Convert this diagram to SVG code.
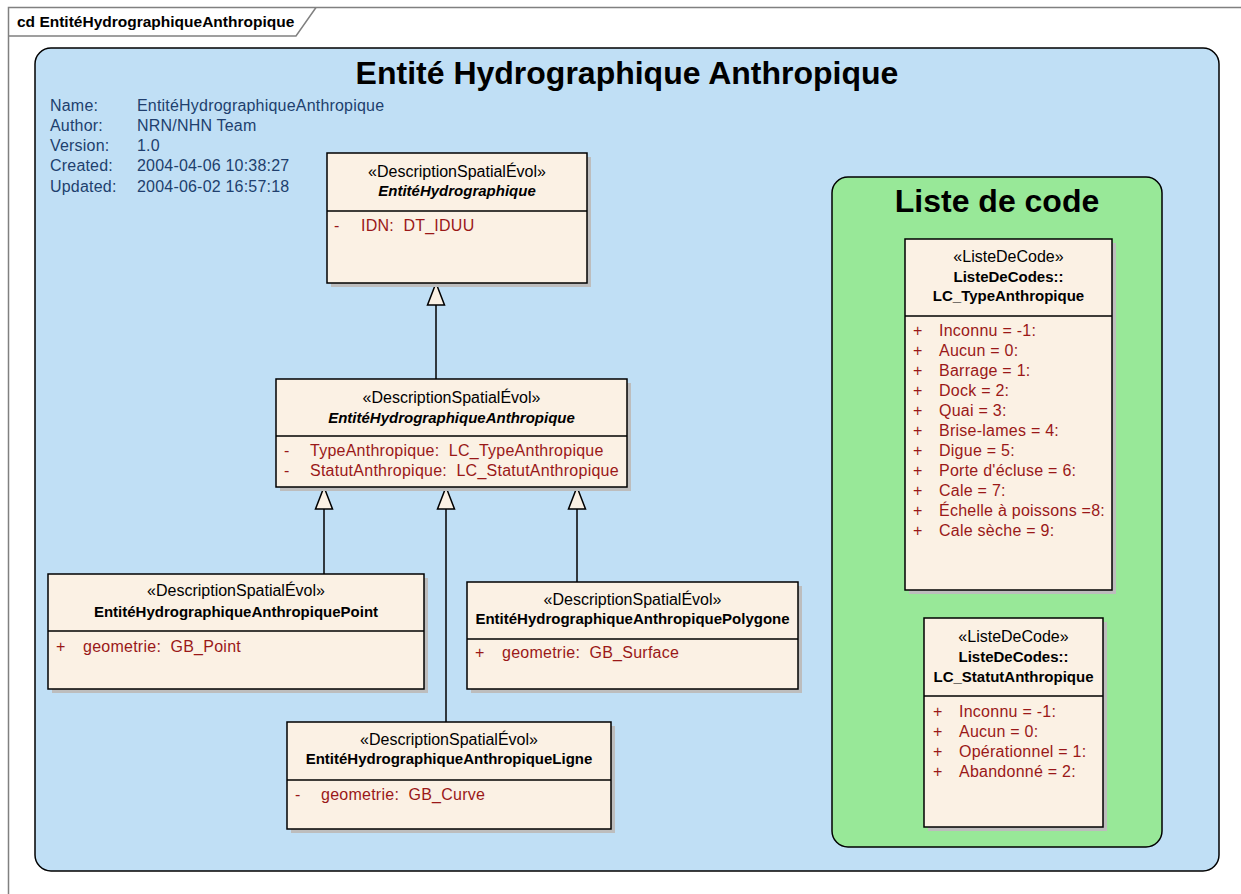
<svg xmlns="http://www.w3.org/2000/svg" width="1241" height="894" viewBox="0 0 1241 894">
<style>
text{font-family:"Liberation Sans",Arial,sans-serif;white-space:pre}
.meta{font-size:16px;fill:#203f6e;letter-spacing:0.2px}
.st{font-size:16px;fill:#000;text-anchor:middle}
.nm{font-size:15px;font-weight:bold;fill:#000;text-anchor:middle}
.nmi{font-size:15px;font-weight:bold;font-style:italic;fill:#000;text-anchor:middle}
.at{font-size:16px;fill:#9a1818;letter-spacing:0.25px}
.box{fill:#fbf1e4;stroke:#000;stroke-width:1.5}
.sh{fill:#bdbdbd}
.div{stroke:#000;stroke-width:1.5}
.con{stroke:#000;stroke-width:1.5;fill:none}
.tri{fill:#fbf1e4;stroke:#000;stroke-width:1.5}
</style>
<rect x="0" y="0" width="1241" height="894" fill="#ffffff"/>
<!-- frame -->
<g id="frame">
<path d="M8.5 894 V7.5 H1241" fill="none" stroke="#808080" stroke-width="1.5"/>
<path d="M8.5 36 H296 L316 7.5" fill="none" stroke="#808080" stroke-width="1.5"/>
<text x="17" y="27" style="font-size:15.5px;font-weight:bold" fill="#000">cd EntitéHydrographiqueAnthropique</text>
</g>
<!-- blue package -->
<g id="pkg-main">
<rect x="35" y="48" width="1184" height="823" rx="16" ry="16" fill="#c0dff5" stroke="#000" stroke-width="1.5"/>
<text x="627" y="84" style="font-size:32px;font-weight:bold" text-anchor="middle" fill="#000">Entité Hydrographique Anthropique</text>
<text class="meta" x="50" y="111">Name:</text><text class="meta" x="137" y="111">EntitéHydrographiqueAnthropique</text>
<text class="meta" x="50" y="131">Author:</text><text class="meta" x="137" y="131">NRN/NHN Team</text>
<text class="meta" x="50" y="151">Version:</text><text class="meta" x="137" y="151">1.0</text>
<text class="meta" x="50" y="171">Created:</text><text class="meta" x="137" y="171">2004-04-06 10:38:27</text>
<text class="meta" x="50" y="192">Updated:</text><text class="meta" x="137" y="192">2004-06-02 16:57:18</text>
</g>
<!-- green package -->
<g id="pkg-codes">
<rect x="832" y="177" width="330" height="670" rx="16" ry="16" fill="#98e898" stroke="#000" stroke-width="1.5"/>
<text x="997" y="212" style="font-size:32px;font-weight:bold" text-anchor="middle" fill="#000">Liste de code</text>
</g>
<!-- connectors -->
<g id="connectors">
<line class="con" x1="436" y1="379" x2="436" y2="305"/>
<polygon class="tri" points="436,283 427.5,305 444.5,305"/>
<line class="con" x1="324" y1="574" x2="324" y2="509"/>
<polygon class="tri" points="324,487 315.5,509 332.5,509"/>
<line class="con" x1="446" y1="722" x2="446" y2="509"/>
<polygon class="tri" points="446,487 437.5,509 454.5,509"/>
<line class="con" x1="577" y1="582" x2="577" y2="509"/>
<polygon class="tri" points="577,487 568.5,509 585.5,509"/>
</g>
<!-- EntitéHydrographique -->
<g id="EntiteHydrographique">
<rect class="sh" x="331" y="157" width="260" height="130"/>
<rect class="box" x="327" y="153" width="260" height="130"/>
<line class="div" x1="327" y1="211" x2="587" y2="211"/>
<text class="st" x="457" y="177">«DescriptionSpatialÉvol»</text>
<text class="nmi" x="457" y="196">EntitéHydrographique</text>
<text class="at" x="334" y="231">-</text><text class="at" x="361" y="231">IDN:  DT_IDUU</text>
</g>
<!-- EntitéHydrographiqueAnthropique -->
<g id="EntiteHydrographiqueAnthropique">
<rect class="sh" x="280" y="383" width="351" height="108"/>
<rect class="box" x="276" y="379" width="351" height="108"/>
<line class="div" x1="276" y1="436" x2="627" y2="436"/>
<text class="st" x="451.5" y="403">«DescriptionSpatialÉvol»</text>
<text class="nmi" x="451.5" y="423">EntitéHydrographiqueAnthropique</text>
<text class="at" x="284" y="456">-</text><text class="at" x="310" y="456">TypeAnthropique:  LC_TypeAnthropique</text>
<text class="at" x="284" y="476">-</text><text class="at" x="310" y="476">StatutAnthropique:  LC_StatutAnthropique</text>
</g>
<!-- Point -->
<g id="EntiteHydrographiqueAnthropiquePoint">
<rect class="sh" x="52" y="578" width="376" height="115"/>
<rect class="box" x="48" y="574" width="376" height="115"/>
<line class="div" x1="48" y1="631" x2="424" y2="631"/>
<text class="st" x="236" y="596">«DescriptionSpatialÉvol»</text>
<text class="nm" x="236" y="617">EntitéHydrographiqueAnthropiquePoint</text>
<text class="at" x="56" y="652">+</text><text class="at" x="83" y="652">geometrie:  GB_Point</text>
</g>
<!-- Polygone -->
<g id="EntiteHydrographiqueAnthropiquePolygone">
<rect class="sh" x="471" y="586" width="331" height="107"/>
<rect class="box" x="467" y="582" width="331" height="107"/>
<line class="div" x1="467" y1="639" x2="798" y2="639"/>
<text class="st" x="632.5" y="605">«DescriptionSpatialÉvol»</text>
<text class="nm" x="632.5" y="624">EntitéHydrographiqueAnthropiquePolygone</text>
<text class="at" x="475" y="658">+</text><text class="at" x="502" y="658">geometrie:  GB_Surface</text>
</g>
<!-- Ligne -->
<g id="EntiteHydrographiqueAnthropiqueLigne">
<rect class="sh" x="291" y="726" width="324" height="107"/>
<rect class="box" x="287" y="722" width="324" height="107"/>
<line class="div" x1="287" y1="780" x2="611" y2="780"/>
<text class="st" x="449" y="745">«DescriptionSpatialÉvol»</text>
<text class="nm" x="449" y="764">EntitéHydrographiqueAnthropiqueLigne</text>
<text class="at" x="295" y="800">-</text><text class="at" x="321" y="800">geometrie:  GB_Curve</text>
</g>
<!-- LC_TypeAnthropique -->
<g id="LC_TypeAnthropique">
<rect class="sh" x="909" y="243" width="207" height="351"/>
<rect class="box" x="905" y="239" width="207" height="351"/>
<line class="div" x1="905" y1="316" x2="1112" y2="316"/>
<text class="st" x="1008.5" y="262">«ListeDeCode»</text>
<text class="nm" x="1008.5" y="282">ListeDeCodes::</text>
<text class="nm" x="1008.5" y="301">LC_TypeAnthropique</text>
<text class="at" x="913" y="336">+</text><text class="at" x="939" y="336">Inconnu = -1:</text>
<text class="at" x="913" y="356">+</text><text class="at" x="939" y="356">Aucun = 0:</text>
<text class="at" x="913" y="376">+</text><text class="at" x="939" y="376">Barrage = 1:</text>
<text class="at" x="913" y="396">+</text><text class="at" x="939" y="396">Dock = 2:</text>
<text class="at" x="913" y="416">+</text><text class="at" x="939" y="416">Quai = 3:</text>
<text class="at" x="913" y="436">+</text><text class="at" x="939" y="436">Brise-lames = 4:</text>
<text class="at" x="913" y="456">+</text><text class="at" x="939" y="456">Digue = 5:</text>
<text class="at" x="913" y="476">+</text><text class="at" x="939" y="476">Porte d'écluse = 6:</text>
<text class="at" x="913" y="496">+</text><text class="at" x="939" y="496">Cale = 7:</text>
<text class="at" x="913" y="516">+</text><text class="at" x="939" y="516">Échelle à poissons =8:</text>
<text class="at" x="913" y="536">+</text><text class="at" x="939" y="536">Cale sèche = 9:</text>
</g>
<!-- LC_StatutAnthropique -->
<g id="LC_StatutAnthropique">
<rect class="sh" x="928" y="622" width="179" height="209"/>
<rect class="box" x="924" y="618" width="179" height="209"/>
<line class="div" x1="924" y1="696" x2="1103" y2="696"/>
<text class="st" x="1013.5" y="642">«ListeDeCode»</text>
<text class="nm" x="1013.5" y="662">ListeDeCodes::</text>
<text class="nm" x="1013.5" y="682">LC_StatutAnthropique</text>
<text class="at" x="933" y="717">+</text><text class="at" x="959" y="717">Inconnu = -1:</text>
<text class="at" x="933" y="737">+</text><text class="at" x="959" y="737">Aucun = 0:</text>
<text class="at" x="933" y="757">+</text><text class="at" x="959" y="757">Opérationnel = 1:</text>
<text class="at" x="933" y="777">+</text><text class="at" x="959" y="777">Abandonné = 2:</text>
</g>
</svg>
